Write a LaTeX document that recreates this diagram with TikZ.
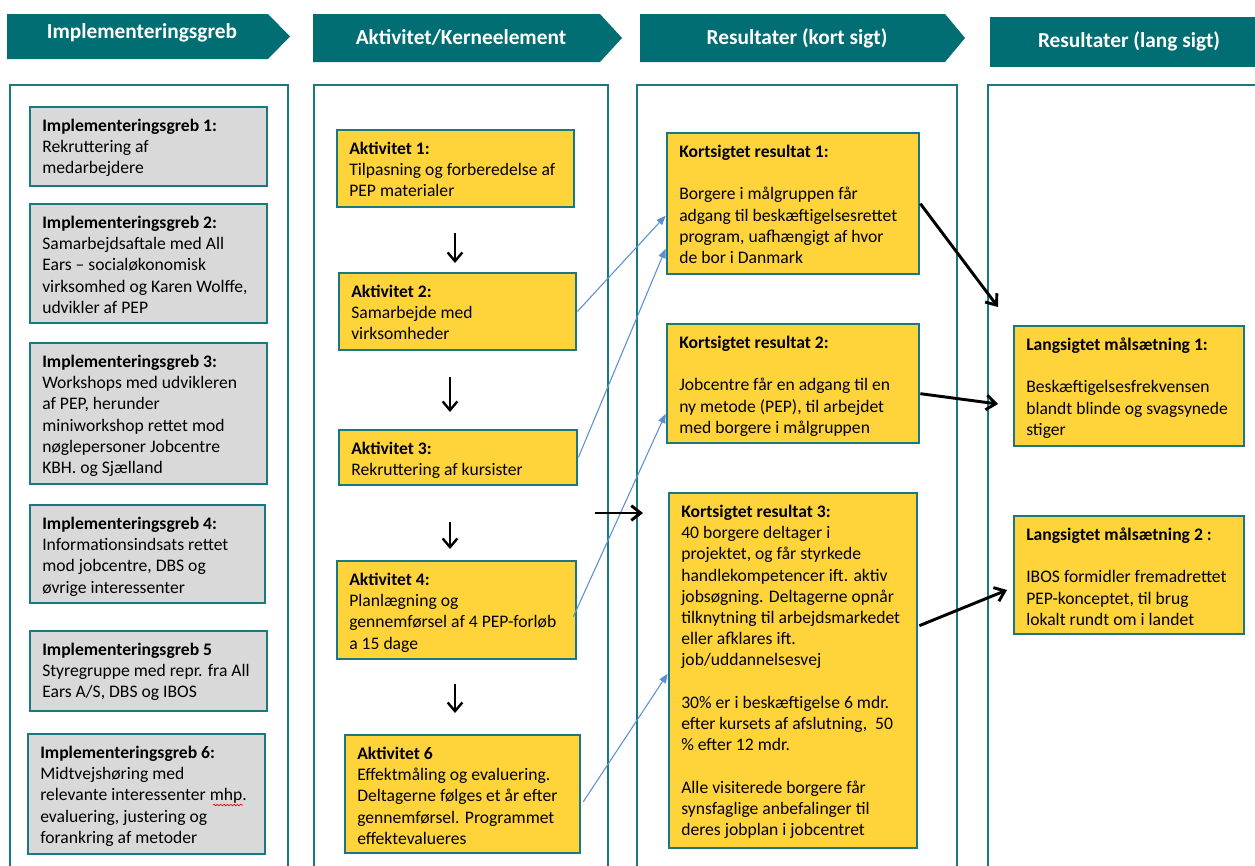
\documentclass[tikz,border=0pt]{standalone}
\usepackage{fontspec}
\setmainfont{Carlito}
\usetikzlibrary{arrows.meta,fit,calc,decorations.pathmorphing}
\definecolor{hdr}{HTML}{006E73}
\definecolor{tealb}{HTML}{1A7980}
\definecolor{yel}{HTML}{FFD43A}
\definecolor{gry}{HTML}{D9D9D9}
\definecolor{blu}{HTML}{5B8FD4}
\tikzset{
 colbox/.style={draw=tealb, line width=2pt, inner sep=0pt},
 gbox/.style={draw=tealb, fill=gry, line width=2pt, inner sep=0pt},
 ybox/.style={draw=tealb, fill=yel, line width=2pt, inner sep=0pt},
 txt/.style={anchor=north west, inner sep=0pt, align=left, font=\fontsize{13.2}{15.9}\selectfont},
 hdrtxt/.style={text=white, inner sep=0pt, font=\bfseries\fontsize{16}{18}\selectfont},
 bluarr/.style={draw=blu, line width=0.8pt, -{Triangle[length=7pt,width=5.5pt]}},
 blkarr/.style={draw=black, line width=2.2pt, -{Straight Barb[length=7pt,width=11pt]}},
 downarr/.style={draw=black, line width=1.8pt, -{Straight Barb[length=6.5pt,width=11pt]}},
 spell/.style={draw=red, line width=0.5pt, decorate, decoration={snake, amplitude=0.6pt, segment length=2.5pt}},
}
\newcommand\mkbox[7]{%
 \node[#1, fit={(#3,#4)(#5,#6)}] (#2) {};
 \node[txt] (#2t) at (#3+12,#4+9.5) {\rule{0pt}{11pt}#7};
}
\begin{document}
\begin{tikzpicture}[x=0.75pt,y=-0.75pt]
\useasboundingbox (0,0) rectangle (1255,865);
% headers
\fill[hdr] (7,14) -- (268,14) -- (290,36.5) -- (268,59) -- (7,59) -- cycle;
\node[hdrtxt] (h1) at (142,33) {Implementeringsgreb};
\fill[hdr] (313,14) -- (600,14) -- (622,38) -- (600,62) -- (313,62) -- cycle;
\node[hdrtxt] (h2) at (461,37) {Aktivitet/Kerneelement};
\fill[hdr] (640,14) -- (945,14) -- (965,38) -- (945,62) -- (640,62) -- cycle;
\node[hdrtxt] (h3) at (797,38) {Resultater (kort sigt)};
\fill[hdr] (990,17) -- (1258,17) -- (1258,67) -- (990,67) -- cycle;
\node[hdrtxt] (h4) at (1129,41) {Resultater (lang sigt)};
% columns
\node[colbox, fit={(10,85)(288,885)}] (c1) {};
\node[colbox, fit={(314,85)(608,885)}] (c2) {};
\node[colbox, fit={(637,85)(957,885)}] (c3) {};
\node[colbox, fit={(988,85)(1270,885)}] (c4) {};
% column 1
\mkbox{gbox}{G1}{30}{107}{267}{186}{\textbf{Implementeringsgreb 1:}\\Rekruttering af\\medarbejdere}
\mkbox{gbox}{G2}{30}{204}{267}{323}{\textbf{Implementeringsgreb 2:}\\Samarbejdsaftale med All\\Ears – socialøkonomisk\\virksomhed og Karen Wolffe,\\udvikler af PEP}
\mkbox{gbox}{G3}{30}{343}{267}{484}{\textbf{Implementeringsgreb 3:}\\Workshops med udvikleren\\af PEP, herunder\\miniworkshop rettet mod\\nøglepersoner Jobcentre\\KBH. og Sjælland}
\mkbox{gbox}{G4}{30}{505}{265}{603}{\textbf{Implementeringsgreb 4:}\\Informationsindsats rettet\\mod jobcentre, DBS og\\øvrige interessenter}
\mkbox{gbox}{G5}{30}{631}{267}{711}{\textbf{Implementeringsgreb 5}\\Styregruppe med repr. fra All\\Ears A/S, DBS og IBOS}
\mkbox{gbox}{G6}{28}{734}{265}{854}{\textbf{Implementeringsgreb 6:}\\Midtvejshøring med\\relevante interessenter mhp.\\evaluering, justering og\\forankring af metoder}
% column 2
\mkbox{ybox}{A1}{337}{130}{574}{207}{\textbf{Aktivitet 1:}\\Tilpasning og forberedelse af\\PEP materialer}
\mkbox{ybox}{A2}{339}{273}{576}{350}{\textbf{Aktivitet 2:}\\Samarbejde med\\virksomheder}
\mkbox{ybox}{A3}{339}{430}{577}{485}{\textbf{Aktivitet 3:}\\Rekruttering af kursister}
\mkbox{ybox}{A4}{337}{561}{576}{659}{\textbf{Aktivitet 4:}\\Planlægning og\\gennemførsel af 4 PEP-forløb\\a 15 dage}
\mkbox{ybox}{A6}{345}{735}{580}{853}{\textbf{Aktivitet 6}\\Effektmåling og evaluering.\\Deltagerne følges et år efter\\gennemførsel. Programmet\\effektevalueres}
% column 3
\mkbox{ybox}{K1}{667}{133}{919}{274}{\textbf{Kortsigtet resultat 1:}\\[15.9pt]Borgere i målgruppen får\\adgang til beskæftigelsesrettet\\program, uafhængigt af hvor\\de bor i Danmark}
\mkbox{ybox}{K2}{667}{324}{919}{443}{\textbf{Kortsigtet resultat 2:}\\[15.9pt]Jobcentre får en adgang til en\\ny metode (PEP), til arbejdet\\med borgere i målgruppen}
\mkbox{ybox}{K3}{669}{493}{917}{848}{\textbf{Kortsigtet resultat 3:}\\40 borgere deltager i\\projektet, og får styrkede\\handlekompetencer ift. aktiv\\jobsøgning. Deltagerne opnår\\tilknytning til arbejdsmarkedet\\eller afklares ift.\\job/uddannelsesvej\\[15.9pt]30\% er i beskæftigelse 6 mdr.\\efter kursets af afslutning,~~50\\\% efter 12 mdr.\\[15.9pt]Alle visiterede borgere får\\synsfaglige anbefalinger til\\deres jobplan i jobcentret}
% column 4
\mkbox{ybox}{L1}{1014}{326}{1244}{446}{\textbf{Langsigtet målsætning 1:}\\[15.9pt]Beskæftigelsesfrekvensen\\blandt blinde og svagsynede\\stiger}
\mkbox{ybox}{L2}{1014}{516}{1244}{634}{\textbf{Langsigtet målsætning 2 :}\\[15.9pt]IBOS formidler fremadrettet\\PEP-konceptet, til brug\\lokalt rundt om i landet}
% spelling underline under "mhp."
\coordinate (u1) at (213,805); \coordinate (u2) at (243,805);
\draw[spell] (u1) -- (u2);
% free ends
\coordinate (d1a) at (455,233); \coordinate (d1b) at (455,263);
\coordinate (d2a) at (450,377); \coordinate (d2b) at (450,412);
\coordinate (d3a) at (450,522); \coordinate (d3b) at (450,549);
\coordinate (d4a) at (455,684); \coordinate (d4b) at (455,713);
\coordinate (e1) at (998,307);
\coordinate (e2) at (998,404);
\coordinate (e3) at (1007,590);
\coordinate (s1) at (595,513); \coordinate (s2) at (643,513);
% down arrows
\draw[downarr] (d1a) -- (d1b);
\draw[downarr] (d2a) -- (d2b);
\draw[downarr] (d3a) -- (d3b);
\draw[downarr] (d4a) -- (d4b);
% blue arrows
\draw[bluarr] (A2.east) -- ($(K1.north west)+(0,84)$);
\draw[bluarr] (A3.east) -- ($(K1.north west)+(0,117)$);
\draw[bluarr] ($(A4.north east)+(-4,57)$) -- ($(K2.north west)+(0,91)$);
\draw[bluarr] ($(A6.north east)+(2,68)$) -- ($(K3.north west)+(0,182)$);
% black arrows
\draw[blkarr] ($(K1.north east)+(0,72)$) -- (e1);
\draw[blkarr] ($(K2.north east)+(0,71)$) -- (e2);
\draw[blkarr] ($(K3.north east)+(1,134)$) -- (e3);
\draw[blkarr] (s1) -- (s2);
\end{tikzpicture}
\end{document}
